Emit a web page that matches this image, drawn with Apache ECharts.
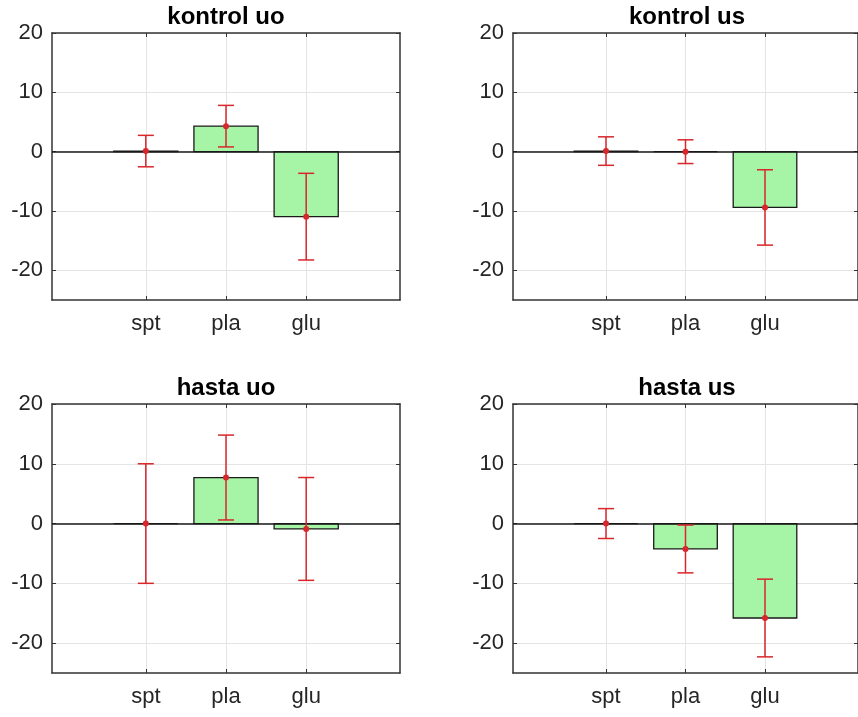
<!DOCTYPE html>
<html>
<head>
<meta charset="utf-8">
<script src="https://cdn.jsdelivr.net/npm/echarts@6/dist/echarts.min.js"></script>
<style>
html,body{margin:0;padding:0;background:#fff;}
#chart{width:858px;height:717px;}
</style>
</head>
<body>
<div id="chart"></div>
<script>
// ---- data ----
const categories = ['spt', 'pla', 'glu'];
const xPositions = [1, 2, 3];
const yTicks = [-20, -10, 0, 10, 20];
const titles = ['kontrol uo', 'kontrol us', 'hasta uo', 'hasta us'];
const kontrolUoMean = [0.1, 4.3, -10.95];
const kontrolUoErr = [2.65, 3.5, 7.3];
const kontrolUsMean = [0.1, 0, -9.4];
const kontrolUsErr = [2.4, 2.0, 6.35];
const hastaUoMean = [0, 7.7, -0.9];
const hastaUoErr = [10, 7.1, 8.6];
const hastaUsMean = [0, -4.25, -15.8];
const hastaUsErr = [2.5, 4.0, 6.5];
const yMin = -25, yMax = 20;
const xMin = -0.17, xMax = 4.17;

const panels = [
  {title: titles[0], mean: kontrolUoMean, err: kontrolUoErr},
  {title: titles[1], mean: kontrolUsMean, err: kontrolUsErr},
  {title: titles[2], mean: hastaUoMean, err: hastaUoErr},
  {title: titles[3], mean: hastaUsMean, err: hastaUsErr}
];

// ---- layout ----
const grids = [
  {left: 52, top: 33, width: 348, height: 267},
  {left: 513, top: 33, width: 348, height: 267},
  {left: 52, top: 404, width: 348, height: 269},
  {left: 513, top: 404, width: 348, height: 269}
];

const textColor = '#262626';
const gridColor = '#e4e4e4';
const font = 'Liberation Sans, Arial, sans-serif';
const barFill = '#a6f5a6';
const errColor = '#d8262b';

const option = {
  backgroundColor: '#ffffff',
  animation: false,
  title: [],
  grid: [],
  xAxis: [],
  yAxis: [],
  series: []
};

panels.forEach((p, i) => {
  const g = grids[i];
  option.grid.push({left: g.left, top: g.top, width: g.width, height: g.height, containLabel: false});
  option.title.push({
    text: p.title,
    left: g.left + g.width / 2,
    top: g.top - 28,
    padding: 0,
    textAlign: 'center',
    textStyle: {fontFamily: font, fontSize: 24, fontWeight: 'bold', color: '#000'}
  });
  const lineStyle = {color: '#333333', width: 1.5};
  // bottom x
  option.xAxis.push({
    type: 'value', gridIndex: i, position: 'bottom', min: xMin, max: xMax,
    axisLine: {show: true, onZero: false, lineStyle},
    axisTick: {show: true, inside: true, length: 4, customValues: xPositions, lineStyle: {color: '#333333', width: 1}},
    axisLabel: {show: true, customValues: xPositions, margin: 13,
      formatter: v => categories[xPositions.indexOf(v)] || '',
      fontFamily: font, fontSize: 22, color: textColor},
    splitLine: {show: true, lineStyle: {color: gridColor, width: 1}}
  });
  // top x
  option.xAxis.push({
    type: 'value', gridIndex: i, position: 'top', min: xMin, max: xMax,
    axisLine: {show: true, onZero: false, lineStyle},
    axisTick: {show: true, inside: true, length: 4, customValues: xPositions, lineStyle: {color: '#333333', width: 1}},
    axisLabel: {show: false},
    splitLine: {show: false}
  });
  // left y
  option.yAxis.push({
    type: 'value', gridIndex: i, position: 'left', min: yMin, max: yMax,
    axisLine: {show: true, onZero: false, lineStyle},
    axisTick: {show: true, inside: true, length: 4, customValues: yTicks, lineStyle: {color: '#333333', width: 1}},
    axisLabel: {show: true, customValues: yTicks, margin: 9,
      fontFamily: font, fontSize: 22, color: textColor},
    splitLine: {show: true, lineStyle: {color: gridColor, width: 1}}
  });
  // right y
  option.yAxis.push({
    type: 'value', gridIndex: i, position: 'right', min: yMin, max: yMax,
    axisLine: {show: true, onZero: false, lineStyle},
    axisTick: {show: true, inside: true, length: 4, customValues: yTicks, lineStyle: {color: '#333333', width: 1}},
    axisLabel: {show: false},
    splitLine: {show: false}
  });

  const barData = xPositions.map((x, k) => [x, p.mean[k]]);
  const errData = xPositions.map((x, k) => [x, p.mean[k], p.err[k]]);

  option.series.push({
    type: 'custom',
    xAxisIndex: 2 * i, yAxisIndex: 2 * i,
    z: 2,
    data: barData,
    renderItem: (params, api) => {
      const x = api.value(0), y = api.value(1);
      const a = api.coord([x - 0.4, y]);
      const b = api.coord([x + 0.4, 0]);
      return {
        type: 'rect',
        shape: {x: a[0], y: Math.min(a[1], b[1]), width: b[0] - a[0], height: Math.abs(b[1] - a[1])},
        style: {fill: barFill, stroke: '#1a1a1a', lineWidth: 1.3}
      };
    },
    markLine: {
      silent: true, symbol: 'none', z: 3,
      label: {show: false},
      lineStyle: {color: '#1a1a1a', width: 1.5, type: 'solid'},
      data: [{yAxis: 0}]
    }
  });

  option.series.push({
    type: 'custom',
    xAxisIndex: 2 * i, yAxisIndex: 2 * i,
    z: 5,
    data: errData,
    renderItem: (params, api) => {
      const x = api.value(0), m = api.value(1), e = api.value(2);
      const top = api.coord([x, m + e]);
      const bot = api.coord([x, m - e]);
      const mid = api.coord([x, m]);
      const hw = 8;
      const st = {stroke: errColor, lineWidth: 1.5, fill: null};
      return {
        type: 'group',
        children: [
          {type: 'line', shape: {x1: top[0], y1: top[1], x2: bot[0], y2: bot[1]}, style: st},
          {type: 'line', shape: {x1: top[0] - hw, y1: top[1], x2: top[0] + hw, y2: top[1]}, style: st},
          {type: 'line', shape: {x1: bot[0] - hw, y1: bot[1], x2: bot[0] + hw, y2: bot[1]}, style: st},
          {type: 'circle', shape: {cx: mid[0], cy: mid[1], r: 3}, style: {fill: errColor}}
        ]
      };
    }
  });
});

const chart = echarts.init(document.getElementById('chart'), null, {renderer: 'canvas'});
chart.setOption(option);
</script>
</body>
</html>
